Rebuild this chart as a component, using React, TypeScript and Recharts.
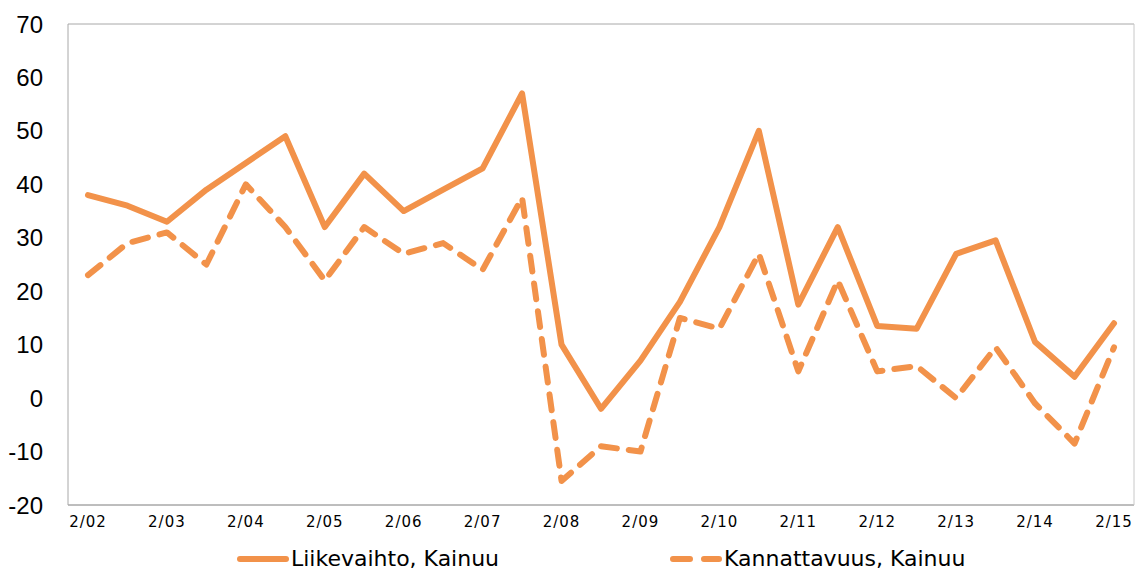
import { LineChart, Line, XAxis, YAxis, CartesianGrid, Legend } from "recharts";

const periods = [
  "2/02", "9/02", "2/03", "9/03", "2/04", "9/04", "2/05", "9/05", "2/06", "9/06",
  "2/07", "9/07", "2/08", "9/08", "2/09", "9/09", "2/10", "9/10", "2/11", "9/11",
  "2/12", "9/12", "2/13", "9/13", "2/14", "9/14", "2/15",
];

const liikevaihto = [
  38, 36, 33, 39, 44, 49, 32, 42, 35, 39, 43, 57, 10, -2, 7, 18, 32, 50, 17.5, 32,
  13.5, 13, 27, 29.5, 10.5, 4, 14,
];

const kannattavuus = [
  23, 29, 31, 25, 40, 32, 22, 32, 27, 29, 24, 37.5, -15.5, -9, -10, 15, 13, 27, 5, 22,
  5, 6, 0, 9.5, -1, -8.5, 9.5,
];

const yTicks = [-20, -10, 0, 10, 20, 30, 40, 50, 60, 70];

const ORANGE = "#F2924A";
const GRID = "#A8A8A8";

const data = periods.map((p, i) => ({
  period: p,
  liikevaihto: liikevaihto[i],
  kannattavuus: kannattavuus[i],
}));

function LegendContent() {
  const item = (dashed: boolean, label: string, left: number) => (
    <div style={{ position: "absolute", left, top: 8, display: "flex", alignItems: "center" }}>
      <svg width={54} height={10} style={{ marginRight: 1 }}>
        <line
          x1={4}
          y1={5}
          x2={50}
          y2={5}
          stroke={ORANGE}
          strokeWidth={6}
          strokeLinecap="round"
          strokeDasharray={dashed ? "17 14" : undefined}
        />
      </svg>
      <span style={{ whiteSpace: "nowrap" }}>{label}</span>
    </div>
  );
  return (
    <div
      style={{
        position: "relative",
        height: 40,
        fontFamily: "DejaVu Sans",
        fontSize: 22,
        color: "#000",
      }}
    >
      {item(false, "Liikevaihto, Kainuu", 236)}
      {item(true, "Kannattavuus, Kainuu", 669)}
    </div>
  );
}

export default function App() {
  return (
    <div style={{ position: "fixed", left: 0, top: 0, background: "#fff" }}>
      <LineChart
        width={1136}
        height={578}
        data={data}
        margin={{ top: 24, right: 0, bottom: 0, left: 0 }}
      >
        <CartesianGrid vertical={false} stroke={GRID} strokeWidth={1} />
        <XAxis
          dataKey="period"
          interval={1}
          height={33}
          padding={{ left: 20, right: 20 }}
          axisLine={{ stroke: GRID }}
          tickLine={false}
          tickSize={0}
          tickMargin={11}
          tick={{ fill: "#000", fontSize: 15, fontFamily: "DejaVu Sans", letterSpacing: 1 }}
        />
        <YAxis
          yAxisId="left"
          domain={[-20, 70]}
          ticks={yTicks}
          width={68}
          axisLine={{ stroke: GRID }}
          tickLine={false}
          tickSize={0}
          tickMargin={25}
          tick={{ fill: "#000", fontSize: 24, fontFamily: "Liberation Sans" }}
        />
        <YAxis
          yAxisId="right"
          orientation="right"
          domain={[-20, 70]}
          width={2}
          axisLine={{ stroke: "#C8C8C8" }}
          tickLine={false}
          tick={false}
        />
        <Legend verticalAlign="bottom" height={40} content={<LegendContent />} />
        <Line
          yAxisId="left"
          type="linear"
          dataKey="liikevaihto"
          name="Liikevaihto, Kainuu"
          stroke={ORANGE}
          strokeWidth={6}
          strokeLinejoin="round"
          strokeLinecap="round"
          dot={false}
          isAnimationActive={false}
        />
        <Line
          yAxisId="left"
          type="linear"
          dataKey="kannattavuus"
          name="Kannattavuus, Kainuu"
          stroke={ORANGE}
          strokeWidth={6}
          strokeDasharray="16 12"
          strokeLinejoin="round"
          strokeLinecap="round"
          dot={false}
          isAnimationActive={false}
        />
      </LineChart>
    </div>
  );
}
